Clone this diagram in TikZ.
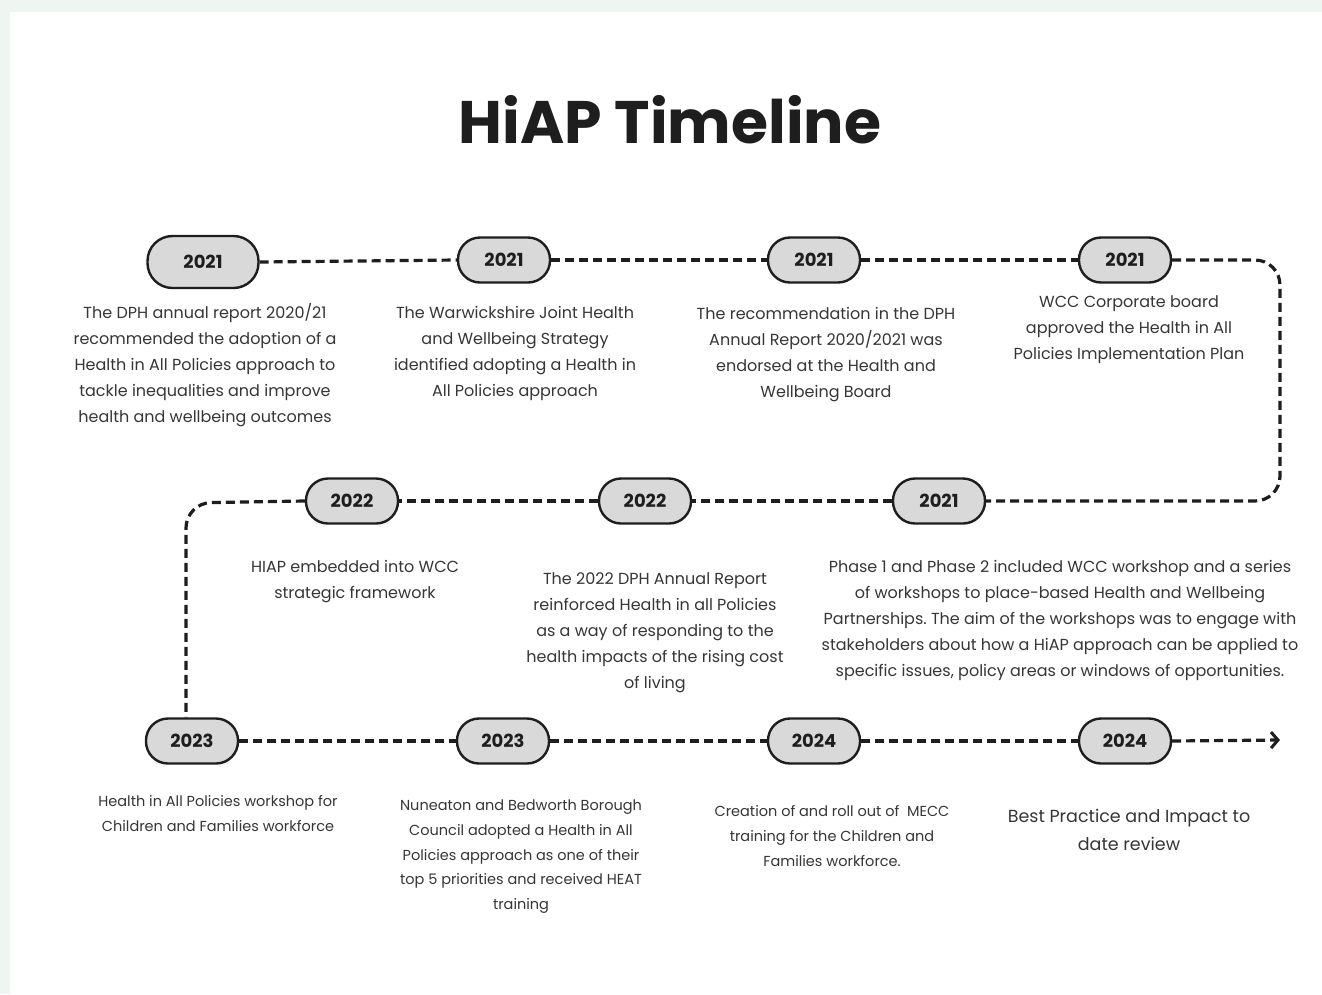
\documentclass[tikz,border=0pt]{standalone}
\usepackage{fontspec}
\setmainfont{Poppins}
\frenchspacing
\usetikzlibrary{arrows.meta}
\definecolor{bgmint}{HTML}{EDF6F1}
\definecolor{pillfill}{HTML}{D9D9D9}
\definecolor{ink}{HTML}{1E1E1E}
\definecolor{bodytext}{HTML}{363636}
\tikzset{
  pill/.style={draw=ink, line width=2.4pt, fill=pillfill, rounded corners=22pt,
    minimum width=92pt, minimum height=45pt, inner sep=0pt,
    font=\fontsize{18}{20}\selectfont\bfseries, text=ink},
  bigpill/.style={pill, minimum width=111pt, minimum height=52pt, rounded corners=25pt},
  desc/.style={align=center, anchor=north, inner sep=0pt, text=bodytext,
    font=\fontsize{16}{26}\selectfont, execute at begin node={\strut}},
  descsmall/.style={desc, font=\fontsize{14.5}{24.7}\selectfont},
  descbig/.style={desc, font=\fontsize{17.5}{28}\selectfont},
  dashline/.style={draw=ink, line width=3.2pt, dash pattern=on 9pt off 5pt, rounded corners=25pt},
}
\begin{document}
\begin{tikzpicture}[x=1pt,y=-1pt]
\fill[bgmint] (0,0) rectangle (1322,994);
\fill[white] (10,12) rectangle (1322,994);
\useasboundingbox (0,0) rectangle (1322,994);

\node[font=\fontsize{60}{68}\selectfont\bfseries, text=ink] (title) at (670,120) {HiAP Timeline};

% row 1
\node[bigpill] (p1) at (203,262) {2021};
\node[pill] (p2) at (504,260) {2021};
\node[pill] (p3) at (814,260) {2021};
\node[pill] (p4) at (1125,260) {2021};
% row 2
\node[pill] (p5) at (352,501) {2022};
\node[pill] (p6) at (645,501) {2022};
\node[pill] (p7) at (939,501) {2021};
% row 3
\node[pill] (p8) at (192,741) {2023};
\node[pill] (p9) at (503,741) {2023};
\node[pill] (p10) at (814,741) {2024};
\node[pill] (p11) at (1125,741) {2024};

\coordinate (c1) at (1280,260);
\coordinate (c2) at (1280,501);
\coordinate (c3) at (186,503);
\coordinate (c4) at (1280,740);

\draw[dashline] (p1.east) -- (p2.west);
\draw[dashline] (p2.east) -- (p3.west);
\draw[dashline] (p3.east) -- (p4.west);
\draw[dashline] (p4.east) -- (c1) -- (c2) -- (p7.east);
\draw[dashline] (p7.west) -- (p6.east);
\draw[dashline] (p6.west) -- (p5.east);
\draw[dashline] (p5.west) -- (c3) -- (c3 |- p8.north);
\draw[dashline] (p8.east) -- (p9.west);
\draw[dashline] (p9.east) -- (p10.west);
\draw[dashline] (p10.east) -- (p11.west);
\draw[dashline, -{Straight Barb[length=7pt,width=16pt,line width=3pt]}] (p11.east) -- (c4);

% descriptions
\node[desc] (t1) at (205,303.3) {The DPH annual report 2020/21\\recommended the adoption of a\\Health in All Policies approach to\\tackle inequalities and improve\\health and wellbeing outcomes};
\node[desc] (t2) at (515,306.3) {The Warwickshire Joint Health\\and Wellbeing Strategy\\identified adopting a Health in\\All Policies approach};
\node[desc] (t3) at (826,307.3) {The recommendation in the DPH\\Annual Report 2020/2021 was\\endorsed at the Health and\\Wellbeing Board};
\node[desc] (t4) at (1129,295.3) {WCC Corporate board\\approved the Health in All\\Policies Implementation Plan};

\node[desc] (t5) at (355,560.3) {HIAP embedded into WCC\\strategic framework};
\node[desc] (t6) at (655,572.3) {The 2022 DPH Annual Report\\reinforced Health in all Policies\\as a way of responding to the\\health impacts of the rising cost\\of living};
\node[desc] (t7) at (1060,560.3) {Phase 1 and Phase 2 included WCC workshop and a series\\of workshops to place-based Health and Wellbeing\\Partnerships. The aim of the workshops was to engage with\\stakeholders about how a HiAP approach can be applied to\\specific issues, policy areas or windows of opportunities.};

\node[descsmall] (t8) at (218,795.7) {Health in All Policies workshop for\\Children and Families workforce};
\node[descsmall] (t9) at (521,799.7) {Nuneaton and Bedworth Borough\\Council adopted a Health in All\\Policies approach as one of their\\top 5 priorities and received HEAT\\training};
\node[descsmall] (t10) at (832,805.7) {Creation of and roll out of\ \ MECC\\training for the Children and\\Families workforce.};
\node[descbig] (t11) at (1129,809.2) {Best Practice and Impact to\\date review};
\end{tikzpicture}
\end{document}
